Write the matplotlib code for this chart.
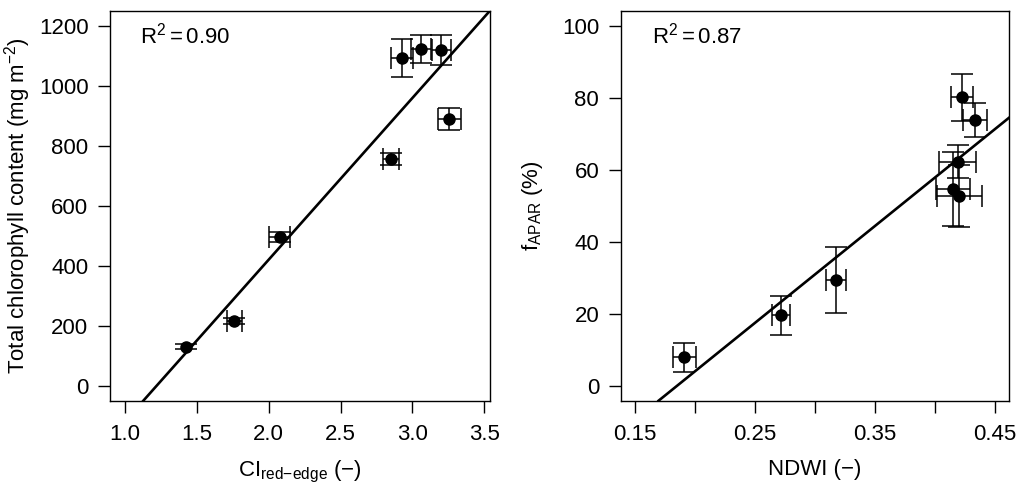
import numpy as np
import matplotlib
matplotlib.use("Agg")
import matplotlib.pyplot as plt

plt.rcParams['font.family'] = ['Liberation Sans', 'DejaVu Sans']
plt.rcParams['mathtext.fontset'] = 'custom'
plt.rcParams['mathtext.rm'] = 'Liberation Sans'
plt.rcParams['mathtext.it'] = 'Liberation Sans'

# left panel: chlorophyll vs CI red-edge
ci = [1.423, 1.761, 2.077, 2.852, 2.927, 3.059, 3.200, 3.258]
chl = [131, 217, 497, 757, 1092, 1122, 1120, 890]
ci_err = [np.nan, 0.050, 0.073, 0.056, 0.077, 0.070, 0.066, 0.077]
chl_err = [9, 11, 17, 19, 63, 47, 50, 37]
chl_fit = (539.0, -657.0)  # slope, intercept
r2_chl = "0.90"

# right panel: fAPAR vs NDWI
ndwi = [0.1911, 0.2717, 0.3178, 0.4153, 0.4203, 0.4189, 0.4331, 0.4222]
fapar = [8.0, 19.7, 29.4, 54.7, 52.8, 62.3, 73.9, 80.2]
ndwi_err = [0.0097, 0.0076, 0.0083, 0.014, 0.0186, 0.0153, 0.0101, 0.0092]
fapar_err = [4.0, 5.4, 9.2, 10.3, 8.5, 4.6, 4.6, 6.5]
fapar_fit = (269.0, -49.7)
r2_fapar = "0.87"

W, H = 1024, 497
fig = plt.figure(figsize=(W / 100, H / 100), dpi=100)
ax1 = fig.add_axes([110 / W, 1 - 400.7 / H, 380 / W, 390 / H])
ax2 = fig.add_axes([620.7 / W, 1 - 400.7 / H, 388.6 / W, 390 / H])

fs = 16


def panel(ax, x, y, xe, ye, fit, r2):
    ax.errorbar(x, y, xerr=xe, yerr=ye, fmt='none', ecolor='black',
                elinewidth=1.1, capsize=8, capthick=1.1)
    ax.plot(x, y, 'o', color='black', ms=8, zorder=3)
    ax.axline((0, fit[1]), slope=fit[0], color='black', lw=1.9)
    ax.text(0.08, 0.935, r'$\mathregular{R^2 = ' + r2 + '}$',
            transform=ax.transAxes, fontsize=fs, va='center', ha='left')
    ax.tick_params(direction='out', length=8.5, width=1.0, labelsize=fs)
    ax.tick_params(axis='x', pad=8)
    ax.tick_params(axis='y', pad=7)
    for s in ax.spines.values():
        s.set_linewidth(1.0)


panel(ax1, ci, chl, ci_err, chl_err, chl_fit, r2_chl)
ax1.set_xlim(0.896, 3.54)
ax1.set_ylim(-49, 1251)
ax1.set_xticks(np.arange(1.0, 3.51, 0.5))
ax1.set_xticklabels(['1.0', '1.5', '2.0', '2.5', '3.0', '3.5'])
ax1.set_yticks(np.arange(0, 1201, 200))
ax1.set_xlabel(r'CI$_{\text{red−edge}}$ (−)', fontsize=fs, labelpad=10)
ax1.set_ylabel(r'Total chlorophyll content (mg m$^{\mathregular{-2}}$)',
               fontsize=fs)
ax1.yaxis.set_label_coords(-0.203, 0.5)

panel(ax2, ndwi, fapar, ndwi_err, fapar_err, fapar_fit, r2_fapar)
ax2.set_xlim(0.138, 0.462)
ax2.set_ylim(-4.08, 104.25)
ax2.set_xticks(np.arange(0.15, 0.451, 0.05))
ax2.set_xticklabels(['0.15', '', '0.25', '', '0.35', '', '0.45'])
ax2.set_yticks(np.arange(0, 101, 20))
ax2.set_xlabel('NDWI (−)', fontsize=fs, labelpad=10)
ax2.set_ylabel(r'f$_{\mathregular{APAR}}$ (%)', fontsize=fs)
ax2.yaxis.set_label_coords(-0.195, 0.5)

fig.savefig('out.png', dpi=100)
